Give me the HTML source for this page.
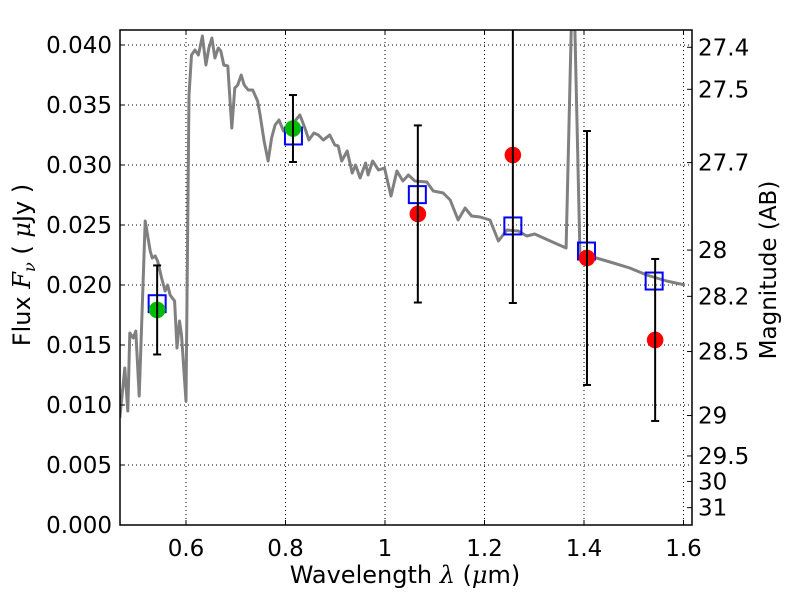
<!DOCTYPE html>
<html><head><meta charset="utf-8"><style>
body{margin:0;background:#fff}
svg{display:block;font-family:"DejaVu Sans","Liberation Sans",sans-serif}
</style></head><body>
<svg id="chart" width="800" height="600" xmlns="http://www.w3.org/2000/svg">
<defs><clipPath id="clip"><rect x="120" y="30" width="572" height="495"/></clipPath></defs>
<rect x="0" y="0" width="800" height="600" fill="#fff"/>
<g id="grid"></g>
<g id="marks" clip-path="url(#clip)"></g>
<g id="axes"></g>
<text x="405" y="583" font-size="24" text-anchor="middle">Wavelength  <tspan font-style="italic" font-family="DejaVu Serif,serif">λ</tspan> (<tspan font-style="italic" font-family="DejaVu Serif,serif">μ</tspan>m)</text>
<text transform="translate(30,265) rotate(-90)" font-size="24" text-anchor="middle">Flux  <tspan font-style="italic" font-family="DejaVu Serif,serif">F</tspan><tspan font-style="italic" font-family="DejaVu Serif,serif" font-size="16" dy="5">ν</tspan><tspan dy="-5">  ( </tspan><tspan font-style="italic" font-family="DejaVu Serif,serif">μ</tspan>Jy )</text>
<text transform="translate(776,270) rotate(-90)" font-size="23" text-anchor="middle">Magnitude (AB)</text>
</svg>
<script>
const specWave=[0.467,0.477,0.483,0.487,0.494,0.499,0.506,0.518,0.528,0.532,0.538,0.543,0.551,0.558,0.563,0.568,0.577,0.582,0.587,0.591,0.600,0.606,0.611,0.618,0.625,0.633,0.640,0.646,0.652,0.658,0.665,0.670,0.676,0.684,0.692,0.698,0.704,0.711,0.717,0.725,0.734,0.744,0.749,0.757,0.765,0.772,0.779,0.787,0.796,0.806,0.819,0.829,0.839,0.847,0.857,0.866,0.876,0.889,0.899,0.906,0.913,0.924,0.934,0.941,0.950,0.961,0.966,0.975,0.987,0.999,1.012,1.024,1.036,1.047,1.060,1.084,1.097,1.117,1.131,1.147,1.161,1.174,1.191,1.211,1.228,1.245,1.268,1.285,1.301,1.332,1.364,1.378,1.392,1.425,1.459,1.492,1.526,1.566,1.603];
const specFlux=[0.00892,0.01308,0.0095,0.016,0.01558,0.01617,0.01075,0.02533,0.02283,0.02225,0.02242,0.022,0.02058,0.0195,0.02,0.01917,0.01867,0.01475,0.017,0.01583,0.01033,0.03583,0.03917,0.03958,0.03917,0.04075,0.03833,0.03975,0.04058,0.03892,0.03975,0.0395,0.03833,0.03825,0.03308,0.03642,0.03667,0.0375,0.03667,0.03625,0.03625,0.03533,0.03417,0.032,0.03033,0.03225,0.03333,0.03375,0.03283,0.03308,0.03367,0.03417,0.03308,0.03208,0.03267,0.0325,0.03208,0.0325,0.03167,0.03158,0.03033,0.03117,0.02933,0.03,0.02892,0.03017,0.02917,0.03033,0.02958,0.02975,0.02742,0.0295,0.02867,0.02917,0.02867,0.02858,0.02783,0.02767,0.02708,0.02542,0.02642,0.02575,0.02567,0.02542,0.02367,0.02458,0.0245,0.02408,0.02425,0.02367,0.02308,0.04792,0.0225,0.02225,0.02183,0.02142,0.02083,0.02033,0.02];
const modelWave=[0.542,0.816,1.065,1.257,1.405,1.541];
const modelFlux=[0.01844,0.03242,0.02753,0.02492,0.02283,0.02033];
const greenWave=[0.542,0.815];
const greenFlux=[0.01792,0.03304];
const greenErr=[0.00371,0.00279];
const redWave=[1.066,1.257,1.406,1.543];
const redFlux=[0.02592,0.03083,0.02225,0.01542];
const redErr=[0.00738,0.01233,0.01058,0.00675];
const xTicks=[0.6,0.8,1.0,1.2,1.4,1.6];
const xTickLabels=["0.6","0.8","1","1.2","1.4","1.6"];
const yTicks=[0,0.005,0.01,0.015,0.02,0.025,0.03,0.035,0.04];
const yTickLabels=["0.000","0.005","0.010","0.015","0.020","0.025","0.030","0.035","0.040"];
const magTicks=[27.4,27.5,27.7,28,28.2,28.5,29,29.5,30,31];
const magTickLabels=["27.4","27.5","27.7","28","28.2","28.5","29","29.5","30","31"];

const L=120,R=692,T=30,B=525;
const X=w=>186+(w-0.6)*497.5;
const Y=f=>B-f*12000;
const magToFlux=m=>Math.pow(10,(23.9-m)/2.5);
const NS="http://www.w3.org/2000/svg";
function mk(tag,attrs,parent){const e=document.createElementNS(NS,tag);for(const k in attrs)e.setAttribute(k,attrs[k]);parent.appendChild(e);return e;}
const grid=document.getElementById('grid'),marks=document.getElementById('marks'),axes=document.getElementById('axes');

xTicks.forEach((t,i)=>{
  const g=mk('line',{x1:X(t),x2:X(t),y1:T,y2:B,stroke:'#000','stroke-width':1,'stroke-dasharray':'1,3'},grid);
  
  
  const a=mk('line',{x1:X(t),x2:X(t),y1:B,y2:B-5,stroke:'#000','stroke-width':1},axes);
  
  
  const b=mk('line',{x1:X(t),x2:X(t),y1:T,y2:T+5,stroke:'#000','stroke-width':1},axes);
  
  
  const tx=mk('text',{x:X(t),y:556,'font-size':23,'text-anchor':'middle'},axes);
  tx.textContent=xTickLabels[i];
  
  
});
yTicks.forEach((t,i)=>{
  const g=mk('line',{x1:L,x2:R,y1:Y(t),y2:Y(t),stroke:'#000','stroke-width':1,'stroke-dasharray':'1,3'},grid);
  
  
  const a=mk('line',{x1:L,x2:L+5,y1:Y(t),y2:Y(t),stroke:'#000','stroke-width':1},axes);
  
  
  const tx=mk('text',{x:112,y:Y(t)+8,'font-size':23,'text-anchor':'end'},axes);
  tx.textContent=yTickLabels[i];
  
  
});
magTicks.forEach((m,i)=>{
  const y=Y(magToFlux(m));
  const a=mk('line',{x1:R,x2:R-5,y1:y,y2:y,stroke:'#000','stroke-width':1},axes);
  
  
  const tx=mk('text',{x:698,y:y+8,'font-size':23},axes);
  tx.textContent=magTickLabels[i];
  
  
});
const frame=mk('rect',{x:L,y:T,width:R-L,height:B-T,fill:'none',stroke:'#000','stroke-width':1.5},axes);



const pts=specWave.map((w,i)=>X(w).toFixed(1)+','+Y(specFlux[i]).toFixed(1)).join(' ');
const sp=mk('polyline',{points:pts,fill:'none',stroke:'#808080','stroke-width':3,'stroke-linejoin':'round'},marks);



modelWave.forEach((w,i)=>{
  const s=mk('rect',{x:X(w)-8.5,y:Y(modelFlux[i])-8.5,width:17,height:17,fill:'none',stroke:'#0000ff','stroke-width':2},marks);
  
  
});
function pointsWithErr(ws,fs,es,color,name){
  ws.forEach((w,i)=>{
    const c=mk('circle',{cx:X(w),cy:Y(fs[i]),r:8.3,fill:color},marks);
    
    
  });
  ws.forEach((w,i)=>{
    const x=X(w),y1=Y(fs[i]+es[i]),y2=Y(fs[i]-es[i]);
    const g=mk('g',{stroke:'#000','stroke-width':2},marks);
    
    
    mk('line',{x1:x,x2:x,y1:y1,y2:y2},g);
    mk('line',{x1:x-4,x2:x+4,y1:y1,y2:y1},g);
    mk('line',{x1:x-4,x2:x+4,y1:y2,y2:y2},g);
  });
}
pointsWithErr(greenWave,greenFlux,greenErr,'#00bb00','green-observed-point');
pointsWithErr(redWave,redFlux,redErr,'#ff0000','red-observed-point');
</script>
</body></html>
